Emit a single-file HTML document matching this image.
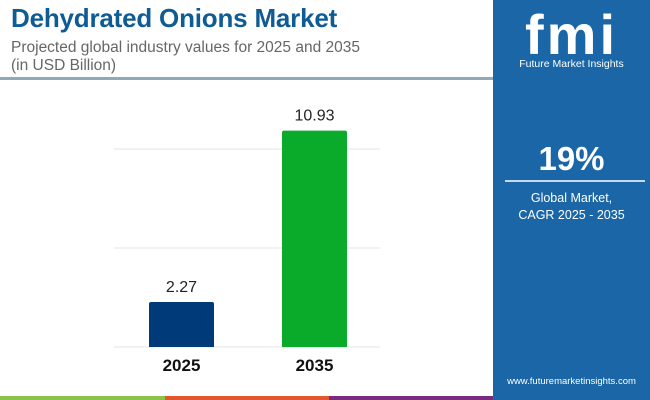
<!DOCTYPE html>
<html><head><meta charset="utf-8"><style>
body{margin:0;width:650px;height:400px;overflow:hidden;background:#fff;font-family:"Liberation Sans",sans-serif;position:relative}
div,svg{position:absolute}
</style></head><body>
<div style="left:11px;top:3px;font-size:26px;font-weight:bold;color:#0e5c93;letter-spacing:-0.2px">Dehydrated Onions Market</div>
<div style="left:11px;top:39px;font-size:15.5px;color:#666;line-height:18px">Projected global industry values for 2025 and 2035<br>(in USD Billion)</div>
<div style="left:0;top:77px;width:493px;height:3px;background:#8eaab8"></div>
<svg id="chart" width="493" height="400" style="left:0;top:0"></svg>
<div style="left:0;top:396px;width:165px;height:4px;background:#8bc34a"></div>
<div style="left:165px;top:396px;width:164px;height:4px;background:#e2572b"></div>
<div style="left:329px;top:396px;width:164px;height:4px;background:#7b2a82"></div>
<div style="left:493px;top:0;width:157px;height:400px;background:#1a66a6">
 <div style="left:0;width:157px;top:2px;text-align:center;font-size:56px;font-weight:bold;color:#fff;letter-spacing:3px">fmi</div>
 <div style="left:0;width:157px;top:58px;text-align:center;font-size:10.5px;color:#fff">Future Market Insights</div>
 <div style="left:0;width:157px;top:140px;text-align:center;font-size:33px;font-weight:bold;color:#fff">19%</div>
 <div style="left:12px;top:180px;width:140px;height:2px;background:#c5d9ee"></div>
 <div style="left:0;width:157px;top:190px;text-align:center;font-size:12.5px;color:#fff;line-height:17px">Global Market,<br>CAGR 2025 - 2035</div>
 <div style="left:0;width:157px;top:376px;text-align:center;font-size:9.5px;color:#fff">www.futuremarketinsights.com</div>
</div>
<script>
const categories=["2025","2035"];
const values=[2.27,10.93];
const labels=["2.27","10.93"];
const gridTicks=[0,5,10];
const colors=["#003a78","#0aaa2a"];
const svg=document.getElementById('chart');
const NS="http://www.w3.org/2000/svg";
const base=347,scale=19.8,left=114,right=380;
const y=v=>base-v*scale;
const x=i=>149+i*133;
const bw=65;
gridTicks.forEach(t=>{
 const l=document.createElementNS(NS,'line');
 
 
 l.setAttribute('x1',left);l.setAttribute('x2',right);l.setAttribute('y1',y(t));l.setAttribute('y2',y(t));
 l.setAttribute('stroke','#e6e6e6');l.setAttribute('stroke-width','1');
 svg.appendChild(l);
});
values.forEach((v,i)=>{
 const r=document.createElementNS(NS,'path');
 
 
 const x0=x(i),y0=y(v),rr=2;
 r.setAttribute('d',`M${x0},${base}V${y0+rr}Q${x0},${y0} ${x0+rr},${y0}H${x0+bw-rr}Q${x0+bw},${y0} ${x0+bw},${y0+rr}V${base}Z`);
 r.setAttribute('fill',colors[i]);
 svg.appendChild(r);
 const t=document.createElementNS(NS,'text');
 
 
 t.setAttribute('x',x0+bw/2);t.setAttribute('y',y0-10);
 t.setAttribute('text-anchor','middle');t.setAttribute('font-size','16');t.setAttribute('fill','#222');
 t.setAttribute('font-family','Liberation Sans, sans-serif');
 t.textContent=labels[i];svg.appendChild(t);
 const c=document.createElementNS(NS,'text');
 
 
 c.setAttribute('x',x0+bw/2);c.setAttribute('y',371);
 c.setAttribute('text-anchor','middle');c.setAttribute('font-size','17');c.setAttribute('font-weight','bold');c.setAttribute('fill','#111');
 c.setAttribute('font-family','Liberation Sans, sans-serif');
 c.textContent=categories[i];svg.appendChild(c);
});
</script>
</body></html>
